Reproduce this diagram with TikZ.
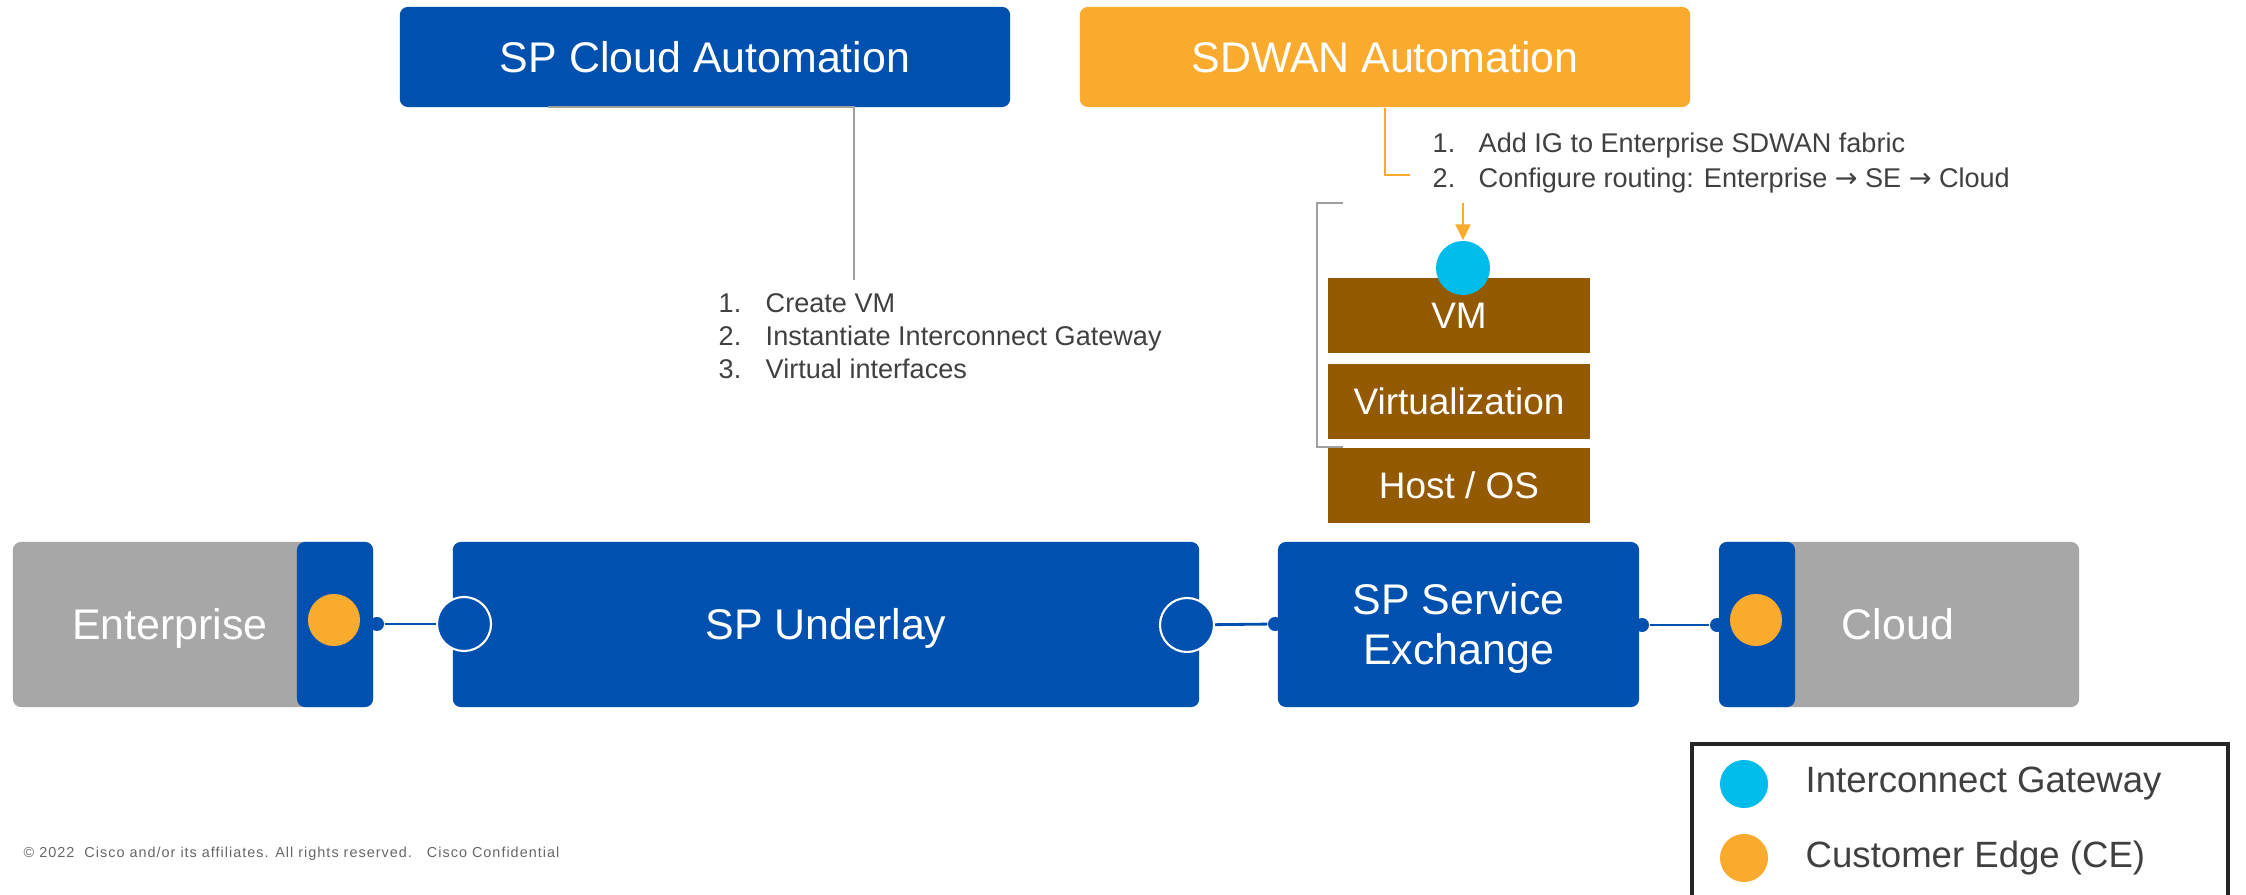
\documentclass[tikz,border=0pt]{standalone}
\usepackage{fontspec}
\setmainfont{Liberation Sans}
\newfontfamily\arrowfont{DejaVu Sans}
\newfontfamily\footfont{Liberation Sans}[LetterSpace=7]
\usetikzlibrary{arrows.meta}
\definecolor{ciscoblue}{RGB}{0,81,175}
\definecolor{ciscoorange}{RGB}{250,171,46}
\definecolor{sitegrey}{RGB}{167,167,167}
\definecolor{stackbrown}{RGB}{147,90,3}
\definecolor{igcyan}{RGB}{0,188,235}
\definecolor{notegrey}{RGB}{64,64,64}
\definecolor{wiregrey}{RGB}{160,160,160}
\tikzset{>={Triangle[length=1.6mm,width=1.5mm]}}
\tikzset{
  box/.style={rounded corners=0.08cm, inner sep=0pt, text=white,
    text height=8.7pt, text depth=0pt, font=\fontsize{12.2}{14.3}\selectfont},
  autobox/.style={box, minimum width=6.1cm, minimum height=1cm},
  sitebox/.style={box, fill=sitegrey, minimum width=3.6cm, minimum height=1.65cm},
  strip/.style={box, fill=ciscoblue, minimum width=0.76cm, minimum height=1.65cm},
  layer/.style={inner sep=0pt, fill=stackbrown, text=white, minimum width=2.62cm,
    minimum height=0.75cm, font=\fontsize{10.5}{12}\selectfont},
  ce/.style={circle, fill=ciscoorange, minimum size=0.52cm, inner sep=0pt},
  igdot/.style={circle, fill=igcyan, minimum size=0.54cm, inner sep=0pt},
  port/.style={circle, fill=ciscoblue, minimum size=0.14cm, inner sep=0pt},
  pe/.style={circle, fill=ciscoblue, draw=white, line width=0.6pt,
    minimum size=0.54cm, inner sep=0pt},
  link/.style={ciscoblue, line width=0.8pt},
  wire/.style={line width=0.6pt},
  note/.style={text=notegrey, font=\fontsize{7.7}{9.4}\selectfont, inner sep=0pt},
  keytext/.style={text=notegrey, font=\fontsize{10.4}{12}\selectfont, inner sep=0pt}
}

\begin{document}
\begin{tikzpicture}[x=0.01cm, y=-0.01cm]
\useasboundingbox (0,0) rectangle (2246,895);
\clip (0,0) rectangle (2246,895);
% automation
\node[autobox, fill=ciscoblue] (spauto) at (705,57) {SP Cloud Automation};
\node[autobox, fill=ciscoorange] (sdauto) at (1385,57) {SDWAN Automation};
% steps
\node[note, anchor=west] (spsteps) at (718,339) {\begin{tabular}{@{}p{0.47cm}@{}l@{}}
  1. & Create VM\\
  2. & Instantiate Interconnect Gateway\\
  3. & Virtual interfaces\end{tabular}};
\node[note, anchor=west] (sdsteps) at (1432,163) {\fontsize{7.7}{9.9}\selectfont
  \begin{tabular}{@{}p{0.46cm}@{}l@{}}
  1. & Add IG to Enterprise SDWAN fabric\\
  2. & Configure routing: Enterprise {\arrowfont→} SE {\arrowfont→} Cloud\end{tabular}};
\coordinate (spfoot) at (854,280);
\coordinate (sdfoot) at (1410,175);
\draw[wire, wiregrey] ([xshift=-1.57cm, yshift=0.01cm]spauto.south) -| (spfoot);
\draw[wire, ciscoorange] (sdauto.south) |- (sdfoot);
% host stack
\node[layer] (host) at (1459,485.5) {Host / OS};
\node[layer] (virt) at (1459,401.5) {Virtualization};
\node[layer] (vm) at (1459,315.5) {VM};
\node[igdot] (igw) at (1463,268) {};
\coordinate (igfeed) at (1463,203);
\draw[wire, ciscoorange, ->] (igfeed) -- (igw);
% bracket
\draw[wire, wiregrey] (1343,203) -- (1317,203) -- (1317,447) -- (1343,447);
% enterprise
\node[sitebox] (ent) at (193,624.5) {};
\node[strip] (entedge) at (335,624.5) {};
\node[box] (entlabel) at (170,624) {Enterprise};
\node[ce] (ce1) at (334,620) {};
\node[port] (entport) at (377,624) {};
% underlay
\node[box, fill=ciscoblue, minimum width=7.46cm, minimum height=1.65cm] (ulay) at (826,624.5) {SP Underlay};
\node[pe] (ulin) at (464,624) {};
\node[pe] (ulout) at (1187,625) {};
% service exchange
\node[box, fill=ciscoblue, minimum width=3.61cm, minimum height=1.65cm, align=center,
  text height=23pt] (spse) at (1458.5,624.5) {SP Service\\Exchange};
\node[port] (seleft) at (1275,624) {};
\node[port] (seright) at (1642,625) {};
% cloud
\node[sitebox] (cloud) at (1899,624.5) {};
\node[strip] (cloudedge) at (1757,624.5) {};
\node[box] (cloudlabel) at (1898,624) {Cloud};
\node[ce] (ce2) at (1756,620) {};
\node[port] (cloudport) at (1717,625) {};
% links
\draw[link] (entport) -- (ulin);
\draw[link] (ulout) -- (seleft);
\draw[link] (seright) -- (cloudport);
% legend
\draw[line width=1.1pt, draw=black!85] (1692,744) rectangle (2228,930);
\node[igdot, minimum size=0.48cm] (keyig) at (1744,784) {};
\node[ce, minimum size=0.48cm] (keyce) at (1744,858) {};
\node[keytext, anchor=west] (keyigtext) at (1805,784) {Interconnect Gateway};
\node[keytext, anchor=west] (keycetext) at (1805,858) {Customer Edge (CE)};
% footer
\node[anchor=west, inner sep=0pt, text=black!60, font=\footfont\fontsize{4.1}{5}\selectfont] (footer) at (23,854)
  {© 2022\ \ Cisco and/or its affiliates. All rights reserved.\ \ \ Cisco Confidential};
\end{tikzpicture}
\end{document}
